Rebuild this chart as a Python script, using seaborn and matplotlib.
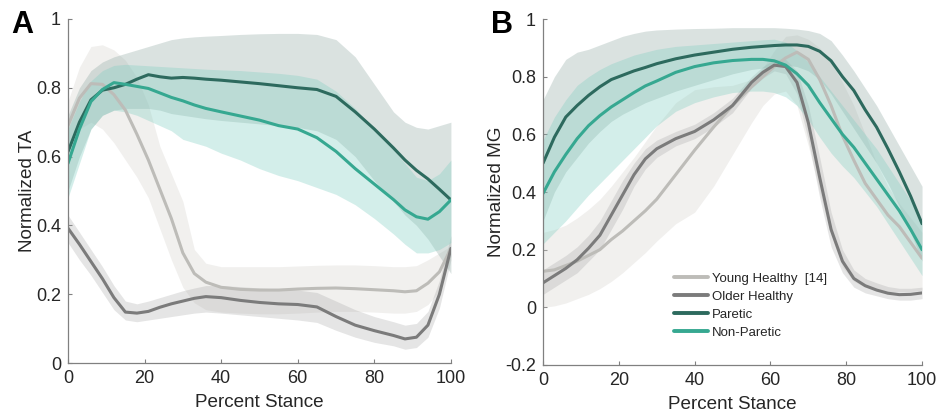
import numpy as np
import pandas as pd
import seaborn as sns
import matplotlib
matplotlib.use("Agg")
import matplotlib.pyplot as plt

# ---- panel A (TA) ----
xa = [0, 3, 6, 9, 12, 15, 18, 21, 24, 27, 30, 33, 36, 40, 45, 50, 55, 60, 65, 70, 75, 80, 85, 88, 91, 94, 97, 100]

ta_paretic = [0.614, 0.70, 0.765, 0.793, 0.80, 0.81, 0.825, 0.838, 0.832, 0.828, 0.83, 0.828, 0.825, 0.822,
              0.817, 0.812, 0.806, 0.80, 0.795, 0.775, 0.73, 0.68, 0.625, 0.59, 0.56, 0.535, 0.505, 0.474]
ta_paretic_hi = [0.72, 0.80, 0.85, 0.875, 0.89, 0.90, 0.91, 0.92, 0.93, 0.94, 0.945, 0.948, 0.95, 0.952,
                 0.955, 0.957, 0.958, 0.958, 0.955, 0.94, 0.89, 0.81, 0.73, 0.70, 0.685, 0.68, 0.69, 0.70]
ta_paretic_lo = [0.50, 0.60, 0.68, 0.72, 0.735, 0.74, 0.74, 0.74, 0.735, 0.725, 0.72, 0.715, 0.71, 0.705,
                 0.70, 0.695, 0.69, 0.685, 0.675, 0.65, 0.60, 0.53, 0.47, 0.43, 0.40, 0.36, 0.31, 0.26]

ta_nonparetic = [0.58, 0.68, 0.76, 0.795, 0.815, 0.81, 0.804, 0.798, 0.785, 0.772, 0.762, 0.75, 0.74, 0.73,
                 0.718, 0.706, 0.69, 0.68, 0.655, 0.615, 0.565, 0.52, 0.475, 0.445, 0.425, 0.418, 0.44, 0.474]
ta_nonparetic_hi = [0.68, 0.76, 0.82, 0.85, 0.865, 0.868, 0.866, 0.864, 0.862, 0.86, 0.858, 0.856, 0.854, 0.852,
                    0.85, 0.846, 0.842, 0.836, 0.825, 0.79, 0.74, 0.68, 0.62, 0.58, 0.54, 0.53, 0.55, 0.59]
ta_nonparetic_lo = [0.48, 0.58, 0.68, 0.72, 0.735, 0.73, 0.72, 0.705, 0.69, 0.675, 0.65, 0.64, 0.63, 0.61,
                    0.59, 0.565, 0.545, 0.53, 0.51, 0.49, 0.46, 0.42, 0.375, 0.345, 0.32, 0.32, 0.33, 0.35]

ta_young = [0.69, 0.77, 0.812, 0.81, 0.78, 0.735, 0.665, 0.59, 0.505, 0.42, 0.32, 0.26, 0.235, 0.22,
            0.214, 0.212, 0.212, 0.215, 0.217, 0.218, 0.216, 0.213, 0.21, 0.207, 0.21, 0.232, 0.265, 0.333]
ta_young_hi = [0.76, 0.86, 0.92, 0.925, 0.91, 0.88, 0.83, 0.75, 0.63, 0.55, 0.47, 0.33, 0.29, 0.28,
               0.28, 0.28, 0.28, 0.282, 0.284, 0.285, 0.285, 0.283, 0.28, 0.28, 0.283, 0.30, 0.32, 0.34]
ta_young_lo = [0.62, 0.68, 0.70, 0.68, 0.64, 0.59, 0.54, 0.48, 0.39, 0.30, 0.22, 0.175, 0.155, 0.148,
               0.145, 0.143, 0.143, 0.145, 0.148, 0.15, 0.15, 0.148, 0.145, 0.145, 0.15, 0.17, 0.21, 0.31]

ta_older = [0.392, 0.345, 0.295, 0.245, 0.19, 0.148, 0.145, 0.15, 0.162, 0.172, 0.18, 0.188, 0.193, 0.19,
            0.182, 0.176, 0.172, 0.17, 0.163, 0.135, 0.11, 0.094, 0.08, 0.07, 0.075, 0.11, 0.20, 0.333]
ta_older_hi = [0.43, 0.38, 0.33, 0.28, 0.225, 0.18, 0.172, 0.18, 0.19, 0.20, 0.21, 0.218, 0.225, 0.225,
               0.222, 0.218, 0.215, 0.212, 0.205, 0.18, 0.155, 0.135, 0.12, 0.11, 0.115, 0.15, 0.24, 0.37]
ta_older_lo = [0.35, 0.30, 0.255, 0.205, 0.155, 0.125, 0.12, 0.125, 0.13, 0.135, 0.14, 0.145, 0.148, 0.145,
               0.14, 0.135, 0.13, 0.125, 0.118, 0.095, 0.075, 0.06, 0.05, 0.04, 0.045, 0.075, 0.16, 0.30]

# ---- panel B (MG) ----
xb = [0, 3, 6, 9, 12, 15, 18, 21, 24, 27, 30, 35, 40, 45, 50, 55, 58, 61, 64, 67, 70, 73, 76, 79, 82, 85, 88, 91, 94, 97, 100]

mg_paretic = [0.50, 0.59, 0.66, 0.70, 0.735, 0.765, 0.79, 0.805, 0.82, 0.832, 0.845, 0.862, 0.875, 0.885, 0.895, 0.902,
              0.905, 0.908, 0.91, 0.91, 0.905, 0.888, 0.855, 0.80, 0.752, 0.685, 0.625, 0.55, 0.47, 0.385, 0.29]
mg_paretic_hi = [0.72, 0.80, 0.86, 0.885, 0.895, 0.91, 0.925, 0.94, 0.95, 0.958, 0.962, 0.965, 0.967, 0.968, 0.97, 0.97,
                 0.97, 0.97, 0.968, 0.965, 0.96, 0.95, 0.925, 0.875, 0.82, 0.76, 0.70, 0.63, 0.56, 0.49, 0.42]
mg_paretic_lo = [0.30, 0.40, 0.47, 0.52, 0.57, 0.61, 0.645, 0.67, 0.69, 0.71, 0.725, 0.75, 0.77, 0.79, 0.81, 0.825,
                 0.83, 0.835, 0.84, 0.835, 0.82, 0.79, 0.74, 0.68, 0.62, 0.56, 0.50, 0.43, 0.35, 0.26, 0.16]

mg_nonparetic = [0.395, 0.47, 0.53, 0.585, 0.63, 0.665, 0.695, 0.72, 0.745, 0.768, 0.785, 0.815, 0.835, 0.848, 0.856, 0.86,
                 0.86, 0.855, 0.84, 0.81, 0.77, 0.71, 0.655, 0.60, 0.555, 0.50, 0.445, 0.39, 0.335, 0.27, 0.20]
mg_nonparetic_hi = [0.58, 0.66, 0.72, 0.77, 0.80, 0.825, 0.845, 0.86, 0.875, 0.885, 0.895, 0.905, 0.91, 0.915, 0.92, 0.925,
                    0.928, 0.93, 0.92, 0.89, 0.85, 0.80, 0.75, 0.70, 0.65, 0.60, 0.55, 0.49, 0.43, 0.37, 0.30]
mg_nonparetic_lo = [0.22, 0.26, 0.30, 0.345, 0.39, 0.43, 0.47, 0.51, 0.55, 0.59, 0.63, 0.68, 0.71, 0.73, 0.745, 0.75,
                    0.75, 0.745, 0.73, 0.70, 0.65, 0.59, 0.535, 0.49, 0.45, 0.40, 0.35, 0.29, 0.23, 0.17, 0.11]

mg_young = [0.125, 0.13, 0.145, 0.16, 0.18, 0.20, 0.235, 0.265, 0.30, 0.335, 0.375, 0.46, 0.545, 0.625, 0.70, 0.765,
            0.80, 0.835, 0.865, 0.885, 0.86, 0.79, 0.70, 0.595, 0.51, 0.43, 0.375, 0.32, 0.28, 0.225, 0.17]
mg_young_hi = [0.26, 0.27, 0.285, 0.31, 0.34, 0.375, 0.42, 0.47, 0.52, 0.575, 0.63, 0.71, 0.755, 0.765, 0.77, 0.79,
               0.83, 0.89, 0.94, 0.945, 0.93, 0.90, 0.85, 0.78, 0.70, 0.60, 0.50, 0.42, 0.36, 0.31, 0.26]
mg_young_lo = [0.0, 0.005, 0.015, 0.03, 0.045, 0.065, 0.09, 0.12, 0.155, 0.19, 0.23, 0.29, 0.33, 0.42, 0.53, 0.64,
               0.70, 0.74, 0.75, 0.70, 0.56, 0.40, 0.25, 0.14, 0.09, 0.07, 0.06, 0.055, 0.055, 0.055, 0.06]

mg_older = [0.085, 0.11, 0.135, 0.165, 0.205, 0.25, 0.32, 0.39, 0.46, 0.515, 0.55, 0.585, 0.61, 0.65, 0.70, 0.78,
            0.815, 0.84, 0.835, 0.78, 0.64, 0.45, 0.27, 0.16, 0.10, 0.075, 0.06, 0.049, 0.044, 0.045, 0.05]
mg_older_hi = [0.13, 0.155, 0.18, 0.21, 0.25, 0.30, 0.37, 0.44, 0.50, 0.55, 0.58, 0.61, 0.635, 0.675, 0.725, 0.80,
               0.835, 0.86, 0.86, 0.82, 0.70, 0.52, 0.33, 0.20, 0.13, 0.10, 0.085, 0.072, 0.066, 0.066, 0.07]
mg_older_lo = [0.045, 0.07, 0.095, 0.12, 0.16, 0.20, 0.27, 0.34, 0.42, 0.48, 0.52, 0.56, 0.585, 0.625, 0.675, 0.76,
               0.795, 0.82, 0.81, 0.74, 0.58, 0.38, 0.21, 0.12, 0.07, 0.05, 0.04, 0.03, 0.025, 0.025, 0.03]

groups = ["Young Healthy  [14]", "Older Healthy", "Paretic", "Non-Paretic"]
line_colors = {"Young Healthy  [14]": "#bdbcb8", "Older Healthy": "#7b7b7b",
               "Paretic": "#2d6a5e", "Non-Paretic": "#36a891"}
band_colors = {"Young Healthy  [14]": ("#d8d5d0", 0.35), "Older Healthy": ("#a3a3a3", 0.28),
               "Paretic": ("#8fa9a3", 0.33), "Non-Paretic": ("#7ccdc0", 0.33)}

panel_a = {"Young Healthy  [14]": (ta_young, ta_young_lo, ta_young_hi),
           "Older Healthy": (ta_older, ta_older_lo, ta_older_hi),
           "Paretic": (ta_paretic, ta_paretic_lo, ta_paretic_hi),
           "Non-Paretic": (ta_nonparetic, ta_nonparetic_lo, ta_nonparetic_hi)}
panel_b = {"Young Healthy  [14]": (mg_young, mg_young_lo, mg_young_hi),
           "Older Healthy": (mg_older, mg_older_lo, mg_older_hi),
           "Paretic": (mg_paretic, mg_paretic_lo, mg_paretic_hi),
           "Non-Paretic": (mg_nonparetic, mg_nonparetic_lo, mg_nonparetic_hi)}

sns.set_style("ticks")
plt.rcParams["font.family"] = ["Liberation Sans", "DejaVu Sans"]
plt.rcParams["xtick.direction"] = "in"
plt.rcParams["ytick.direction"] = "in"

fig = plt.figure(figsize=(9.4, 4.16), dpi=100)
ax_a = fig.add_axes([0.0723, 0.1274, 0.4074, 0.827])
ax_b = fig.add_axes([0.5777, 0.1226, 0.4032, 0.8317])


def draw_panel(ax, x, panel):
    for g in groups:
        col, alpha = band_colors[g]
        ax.fill_between(x, panel[g][1], panel[g][2], color=col, alpha=alpha, linewidth=0)
    rows = []
    for g in groups:
        for xi, yi in zip(x, panel[g][0]):
            rows.append((xi, yi, g))
    df = pd.DataFrame(rows, columns=["stance", "value", "group"])
    sns.lineplot(data=df, x="stance", y="value", hue="group", hue_order=groups,
                 palette=line_colors, linewidth=2.2, errorbar=None, legend=False, ax=ax)


draw_panel(ax_a, xa, panel_a)
draw_panel(ax_b, xb, panel_b)

for ax in (ax_a, ax_b):
    sns.despine(ax=ax)
    for s in ("left", "bottom"):
        ax.spines[s].set_color("#808080")
        ax.spines[s].set_linewidth(0.9)
    ax.set_xlim(0, 100)
    ax.set_xticks([0, 20, 40, 60, 80, 100])
    ax.tick_params(length=3, width=0.8, color="#808080", labelsize=13, labelcolor="#262626", pad=5)
    ax.set_xlabel("Percent Stance", fontsize=13.6, color="#262626", labelpad=5)

ax_a.set_ylim(0, 1)
ax_a.set_yticks([0, 0.2, 0.4, 0.6, 0.8, 1])
ax_a.set_yticklabels(["0", "0.2", "0.4", "0.6", "0.8", "1"])
ax_a.set_ylabel("Normalized TA", fontsize=13.6, color="#262626", labelpad=0)

ax_b.set_ylim(-0.2, 1)
ax_b.set_yticks([-0.2, 0, 0.2, 0.4, 0.6, 0.8, 1])
ax_b.set_yticklabels(["-0.2", "0", "0.2", "0.4", "0.6", "0.8", "1"])
ax_b.set_ylabel("Normalized MG", fontsize=13.6, color="#262626", labelpad=0)

handles = ax_b.lines[:4]
leg = ax_b.legend(handles, groups, loc="upper left", bbox_to_anchor=(0.345, 0.268), frameon=False,
                  fontsize=9.5, handlelength=2.6, handletextpad=0.3, labelspacing=0.45,
                  borderaxespad=0, borderpad=0)
for line in leg.get_lines():
    line.set_linewidth(2.8)

fig.text(0.012, 0.921, "A", fontsize=22, fontweight="bold", va="baseline", color="black")
fig.text(0.522, 0.921, "B", fontsize=22, fontweight="bold", va="baseline", color="black")

fig.savefig("out.png", dpi=100)
